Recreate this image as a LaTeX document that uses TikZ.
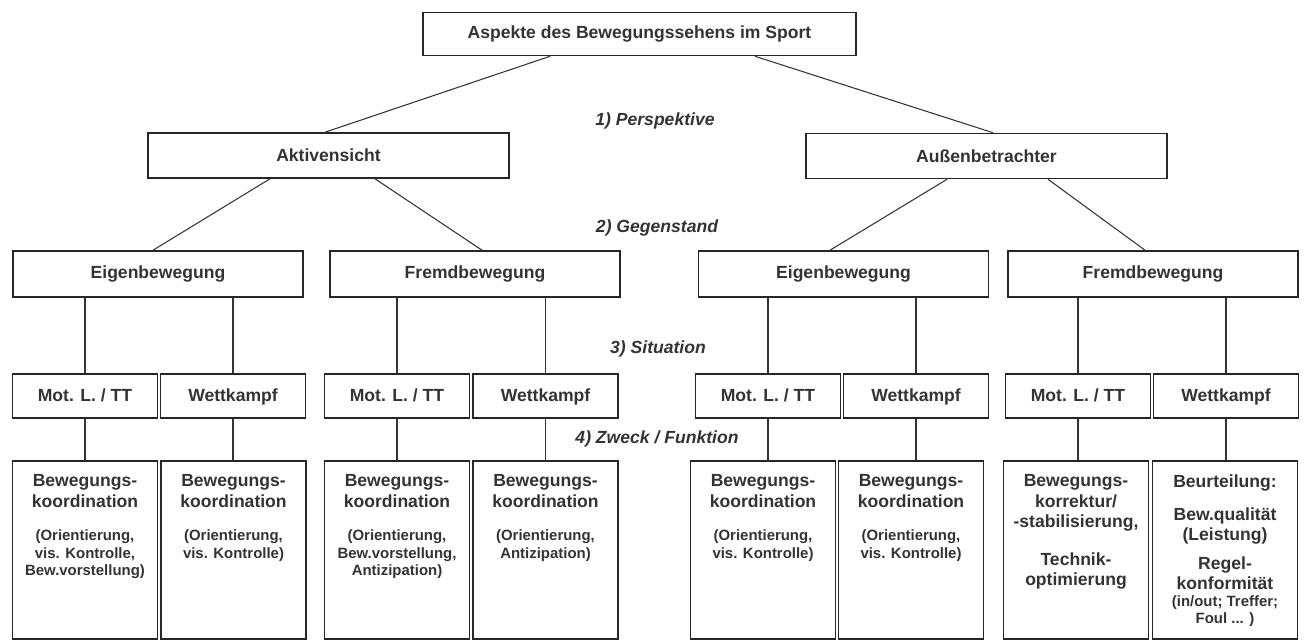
\documentclass[tikz,border=0pt]{standalone}
\usepackage{fontspec}
\setmainfont{Liberation Sans}
\usetikzlibrary{positioning}
\newcommand{\gross}{\fontsize{10}{11.5}\selectfont}
\newcommand{\klein}{\fontsize{8.5}{9.8}\selectfont}
\newcommand{\zwecktext}[1]{\parbox[t][3.0cm][t]{2.9cm}{\centering\gross #1}}
\tikzset{x=0.02cm, y=-0.02cm,
box/.style={ % Sets the properties for each box
draw=black!85,
line width=0.9pt,
font=\gross\bfseries,
text=black!80,
minimum height=0.9cm},
level/.style={ % Labels of the four levels
font=\gross\bfseries\itshape,
text=black!80},
gegen/.style={box, minimum width=5.8cm, minimum height=0.92cm},
sit/.style={box, minimum width=2.9cm, minimum height=0.88cm, text height=1.6ex, text depth=0.4ex},
zweck/.style={box, anchor=north, minimum width=2.9cm, inner xsep=0pt, inner ysep=0.28cm},
link/.style={draw=black!80, line width=0.6pt}}

\begin{document}
\begin{tikzpicture}
\useasboundingbox (0,0) rectangle (1304,642);
\node[box, minimum width=8.66cm, minimum height=0.86cm] (top) at (639.5,34) {Aspekte des Bewegungssehens im Sport};
\node[level] (l1) at (655,121) {1) Perspektive};
\node[box, minimum width=7.22cm] (akt) at (328.5,155.5) {Aktivensicht};
\node[box, minimum width=7.22cm] (aus) at (986.5,156) {Außenbetrachter};
\node[level] (l2) at (657,228) {2) Gegenstand};
\node[gegen] (e1) at (158,274) {Eigenbewegung};
\node[gegen] (f1) at (475,274) {Fremdbewegung};
\node[gegen] (e2) at (843.5,274) {Eigenbewegung};
\node[gegen] (f2) at (1153,274) {Fremdbewegung};
\node[level] (l3) at (658,349) {3) Situation};
\node[sit] (m1) at (85,396) {Mot. L. / TT};
\node[sit] (w1) at (233,396) {Wettkampf};
\node[sit] (m2) at (397,396) {Mot. L. / TT};
\node[sit] (w2) at (545.5,396) {Wettkampf};
\node[sit] (m3) at (768,396) {Mot. L. / TT};
\node[sit] (w3) at (916,396) {Wettkampf};
\node[sit] (m4) at (1078,396) {Mot. L. / TT};
\node[sit] (w4) at (1226,396) {Wettkampf};
\node[level] (l4) at (657,439) {4) Zweck / Funktion};
\node[zweck] (z1) at (85,460) {\zwecktext{Bewegungs-\\koordination\par\vspace{9.5pt}\klein (Orientierung,\\vis. Kontrolle,\\Bew.vorstellung)}};
\node[zweck] (z2) at (233.5,460) {\zwecktext{Bewegungs-\\koordination\par\vspace{9.5pt}\klein (Orientierung,\\vis. Kontrolle)}};
\node[zweck] (z3) at (397,460) {\zwecktext{Bewegungs-\\koordination\par\vspace{9.5pt}\klein (Orientierung,\\Bew.vorstellung,\\Antizipation)}};
\node[zweck] (z4) at (545.5,460) {\zwecktext{Bewegungs-\\koordination\par\vspace{9.5pt}\klein (Orientierung,\\Antizipation)}};
\node[zweck] (z5) at (763,460) {\zwecktext{Bewegungs-\\koordination\par\vspace{9.5pt}\klein (Orientierung,\\vis. Kontrolle)}};
\node[zweck] (z6) at (911,460) {\zwecktext{Bewegungs-\\koordination\par\vspace{9.5pt}\klein (Orientierung,\\vis. Kontrolle)}};
\node[zweck] (z7) at (1076,460) {\zwecktext{Bewegungs-\\korrektur/\\-stabilisierung,\par\vspace{10pt}Technik-\\optimierung}};
\node[zweck] (z8) at (1225,460) {\zwecktext{Beurteilung:\par\vspace{7pt}Bew.qualität\\(Leistung)\par\vspace{5pt}Regel-\\konformität\par\klein (in/out; Treffer;\\Foul ... )}};
% lines between the levels
\draw[link] ([xshift=-1.79cm]top.south) -- ([xshift=-0.07cm]akt.north);
\draw[link] ([xshift=2.31cm]top.south) -- ([xshift=0.13cm]aus.north);
\draw[link] ([xshift=-1.17cm]akt.south) -- ([xshift=-0.1cm]e1.north);
\draw[link] ([xshift=0.93cm]akt.south) -- ([xshift=0.14cm]f1.north);
\draw[link] ([xshift=-0.79cm]aus.south) -- ([xshift=-0.27cm]e2.north);
\draw[link] ([xshift=1.23cm]aus.south) -- ([xshift=-0.16cm]f2.north);
\foreach \s/\g/\z in {m1/e1/z1, w1/e1/z2, m2/f1/z3, w2/f1/z4, m3/e2/z5, w3/e2/z6, m4/f2/z7, w4/f2/z8} {
\draw[link] (\s.north) -- (\s.north |- \g.south);
\draw[link] (\s.south) -- (\s.south |- \z.north);
}
\end{tikzpicture}
\end{document}
